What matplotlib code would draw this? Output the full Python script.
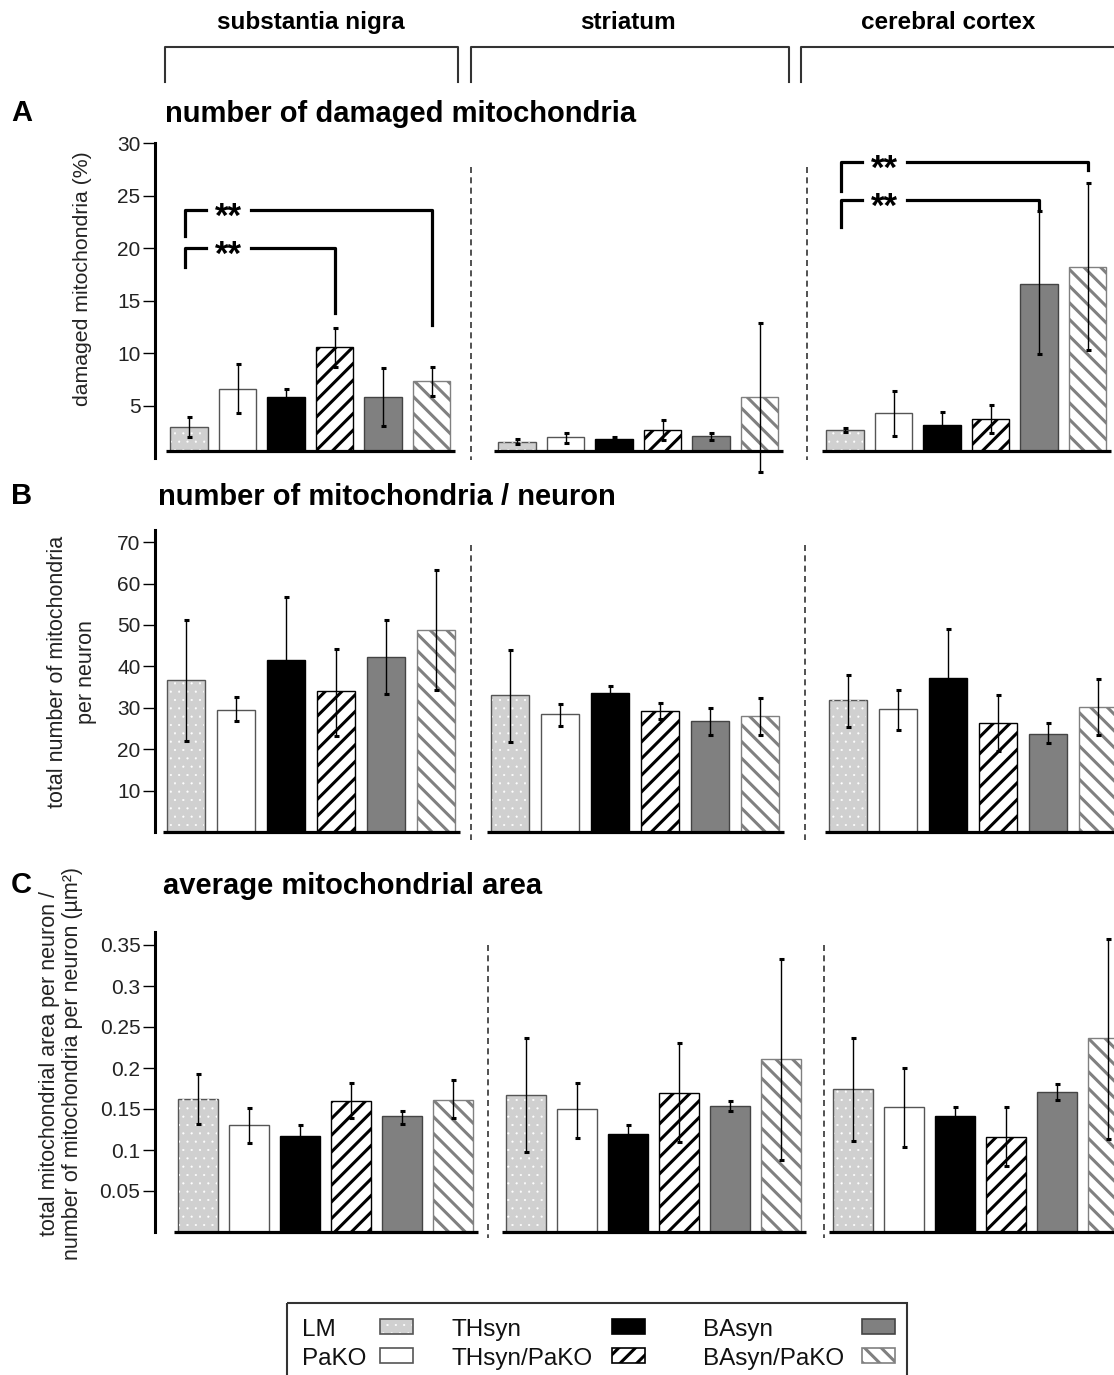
import numpy as np
import matplotlib
matplotlib.use('Agg')
import matplotlib.pyplot as plt
from matplotlib.patches import Rectangle

plt.rcParams['font.family'] = ['Liberation Sans', 'DejaVu Sans']
plt.rcParams['hatch.linewidth'] = 2.2

W, H = 1114, 1375

# datos
regions = ['substantia nigra', 'striatum', 'cerebral cortex']
groups = ['LM', 'PaKO', 'THsyn', 'THsyn/PaKO', 'BAsyn', 'BAsyn/PaKO']

# A: damaged mitochondria (%)  -> una lista por region
dam_mean = [[3.0, 6.6, 5.85, 10.55, 5.8, 7.3],
            [1.55, 1.97, 1.78, 2.67, 2.1, 5.8],
            [2.67, 4.26, 3.18, 3.72, 16.6, 18.2]]
dam_lo = [[2.0, 4.3, 5.1, 8.7, 3.05, 5.9],
          [1.3, 1.46, 1.55, 1.75, 1.7, -1.3],
          [2.5, 2.1, 1.95, 2.35, 9.9, 10.3]]
dam_hi = [[3.9, 9.0, 6.6, 12.4, 8.55, 8.7],
          [1.78, 2.4, 2.0, 3.6, 2.35, 12.9],
          [2.83, 6.4, 4.4, 5.05, 23.5, 26.2]]

# B: total number of mitochondria per neuron
num_mean = [[36.8, 29.5, 41.6, 34.0, 42.3, 48.7],
            [33.2, 28.4, 33.6, 29.2, 26.9, 28.1],
            [31.8, 29.6, 37.3, 26.3, 23.7, 30.3]]
num_lo = [[22.1, 26.7, 26.4, 23.3, 33.4, 34.2],
          [21.7, 25.5, 32.0, 27.3, 23.5, 23.5],
          [25.3, 24.7, 25.5, 19.5, 21.5, 23.5]]
num_hi = [[51.3, 32.6, 56.8, 44.3, 51.3, 63.4],
          [44.0, 30.8, 35.2, 31.1, 30.0, 32.4],
          [38.0, 34.4, 49.1, 33.0, 26.3, 37.0]]

# C: average mitochondrial area (um2)
area_mean = [[0.162, 0.130, 0.117, 0.160, 0.141, 0.161],
             [0.167, 0.150, 0.119, 0.170, 0.154, 0.211],
             [0.174, 0.152, 0.141, 0.116, 0.171, 0.236]]
area_lo = [[0.132, 0.108, 0.104, 0.139, 0.132, 0.139],
           [0.097, 0.115, 0.108, 0.110, 0.148, 0.088],
           [0.111, 0.104, 0.130, 0.080, 0.161, 0.114]]
area_hi = [[0.193, 0.151, 0.130, 0.182, 0.148, 0.185],
           [0.237, 0.182, 0.130, 0.230, 0.160, 0.333],
           [0.236, 0.200, 0.152, 0.152, 0.181, 0.357]]

# significancia: (region, barra izq, barra der, altura, bajada izq, bajada der)
sig_A = [(0, 0, 3, 20.0, 18.2, 13.8), (0, 0, 5, 23.6, 21.2, 12.7),
         (2, 0, 4, 24.6, 22.0, 23.8), (2, 0, 5, 28.2, 25.5, 27.5)]

# estilos de cada grupo
styles = [dict(fc='#d0d0d0', ec='#555555', hatch=None),
          dict(fc='white', ec='#555555', hatch=None),
          dict(fc='black', ec='black', hatch=None),
          dict(fc='white', ec='black', hatch='//'),
          dict(fc='#808080', ec='#444444', hatch=None),
          dict(fc='white', ec='#808080', hatch='\\\\')]

fig = plt.figure(figsize=(W / 100, H / 100), dpi=100)


def make_row(ytop, ybot, zero, k, base, starts, step, w, means, los, his,
             ticks, ticklabels, spine_top, seps):
    ax = fig.add_axes([0, 1 - ybot / H, 1, (ybot - ytop) / H])
    ax.patch.set_visible(False)
    ax.set_xlim(0, W)
    ax.set_ylim((zero - ybot) / k, (zero - ytop) / k)
    for s in ['top', 'right', 'bottom']:
        ax.spines[s].set_visible(False)
    ax.spines['left'].set_position(('data', 155))
    ax.spines['left'].set_bounds(0, spine_top)
    ax.spines['left'].set_linewidth(2.2)
    ax.set_xticks([])
    ax.set_yticks(ticks)
    ax.set_yticklabels(ticklabels)
    ax.tick_params(axis='y', length=8.5, width=1, pad=2, labelsize=15,
                   labelcolor='#222222')
    xs_all = []
    for g in range(3):
        xs = starts[g] + step * np.arange(6)
        xs_all.append(xs)
        m = np.array(means[g])
        for i in range(6):
            st = styles[i]
            ax.bar(xs[i], m[i] - base, bottom=base, width=w, color=st['fc'],
                   edgecolor=st['ec'], hatch=st['hatch'], lw=1, zorder=2)
            if i == 0:
                dots = ax.bar(xs[i], m[i] - base, bottom=base, width=w - 2,
                              color='none', edgecolor='white', hatch='..',
                              lw=0, zorder=2.1)
                for p in dots:
                    if hasattr(p, 'set_hatch_linewidth'):
                        p.set_hatch_linewidth(0.3)
        yerr = [m - np.array(los[g]), np.array(his[g]) - m]
        ax.errorbar(xs, m, yerr=yerr, fmt='none', ecolor='black',
                    elinewidth=1.0, capsize=1.8, capthick=2.2, zorder=3)
        ax.plot([xs[0] - w / 2 - 4, xs[-1] + w / 2 + 5], [base, base],
                color='black', lw=2.3, solid_capstyle='butt', zorder=4)
    for sx in seps:
        ax.plot([sx, sx], [(zero - (ytop + 37)) / k, (zero - (ybot - 20)) / k],
                color='#333333', lw=1.2, ls=(0, (3.6, 2.6)), zorder=1)
    return ax, xs_all


axA, xA = make_row(130, 480, 458, 10.49, 0.7, [189, 517, 845], 48.5, 37.5,
                   dam_mean, dam_lo, dam_hi, [5, 10, 15, 20, 25, 30],
                   ['5', '10', '15', '20', '25', '30'], 30, [470.5, 806.7])
axB, xB = make_row(508, 860, 832, 4.14, 0.0, [186, 510, 848], 50, 38,
                   num_mean, num_lo, num_hi, [10, 20, 30, 40, 50, 60, 70],
                   ['10', '20', '30', '40', '50', '60', '70'], 73, [470.5, 805])
axC, xC = make_row(908, 1258, 1232, 820, 0.0, [198, 526, 853], 51, 39.5,
                   area_mean, area_lo, area_hi,
                   [0.05, 0.1, 0.15, 0.2, 0.25, 0.3, 0.35],
                   ['0.05', '0.1', '0.15', '0.2', '0.25', '0.3', '0.35'],
                   0.366, [488, 824])

# corchetes de significancia
for g, a, b, y, yl, yr in sig_A:
    xl = xA[g][a] - 4
    xr = xA[g][b]
    axA.plot([xl, xl, xl + 21], [yl, y, y], color='black', lw=2.3, zorder=5)
    axA.plot([xl + 66, xr, xr], [y, y, yr], color='black', lw=2.3, zorder=5)
    axA.text(xl + 43.5, y - 1.6, '**', ha='center', va='baseline',
             fontsize=25, fontweight='bold', zorder=5)

# capa de textos
top = fig.add_axes([0, 0, 1, 1])
top.set_xlim(0, W)
top.set_ylim(H, 0)
top.axis('off')
top.patch.set_visible(False)

hdr_x = [(165, 458), (471, 789), (801, 1130)]
hdr_c = [311, 628, 948]
for name, (x0, x1), xc in zip(regions, hdr_x, hdr_c):
    top.text(xc, 22, name, ha='center', va='center', fontsize=17.5,
             fontweight='bold')
    top.plot([x0, x0, x1, x1], [82, 47, 47, 82], color='#333333', lw=1.5)

for lab, y in [('A', 113), ('B', 496), ('C', 885)]:
    top.text(11, y, lab, ha='left', va='center', fontsize=21, fontweight='bold')
top.text(165, 114, 'number of damaged mitochondria', ha='left', va='center',
         fontsize=21, fontweight='bold')
top.text(158, 497, 'number of mitochondria / neuron', ha='left', va='center',
         fontsize=21, fontweight='bold')
top.text(163, 886, 'average mitochondrial area', ha='left', va='center',
         fontsize=21, fontweight='bold')

top.text(82, 279, 'damaged mitochondria (%)', rotation=90, ha='center',
         va='center', fontsize=15.3, color='#222222')
top.text(72, 672, 'total number of mitochondria\nper neuron', rotation=90,
         ha='center', va='center', fontsize=15.5, color='#222222',
         linespacing=1.45)
top.text(61, 1063, 'total mitochondrial area per neuron /\n'
         'number of mitochondria per neuron (µm²)', rotation=90,
         ha='center', va='center', fontsize=15.5, color='#222222',
         linespacing=1.15)

# leyenda
top.add_patch(Rectangle((287, 1303), 620, 120, fill=False, lw=1.5,
                        ec='#333333'))
lab_x = [302, 452, 703]
patch_x = [380, 612, 862]
row_y = [1330, 1359]
for i, name in enumerate(groups):
    c, r = i // 2, i % 2
    top.text(lab_x[c], row_y[r], name, ha='left', va='center', fontsize=17.5,
             color='#111111')
    st = styles[i]
    top.add_patch(Rectangle((patch_x[c], row_y[r] - 11), 33, 15,
                            facecolor=st['fc'], edgecolor=st['ec'],
                            hatch=st['hatch'], lw=1.2))
    if i == 0:
        p = Rectangle((patch_x[c] + 1, row_y[r] - 10), 31, 13,
                      facecolor='none', edgecolor='white', hatch='..', lw=0)
        if hasattr(p, 'set_hatch_linewidth'):
            p.set_hatch_linewidth(0.3)
        top.add_patch(p)

fig.savefig('out.png', dpi=100)
